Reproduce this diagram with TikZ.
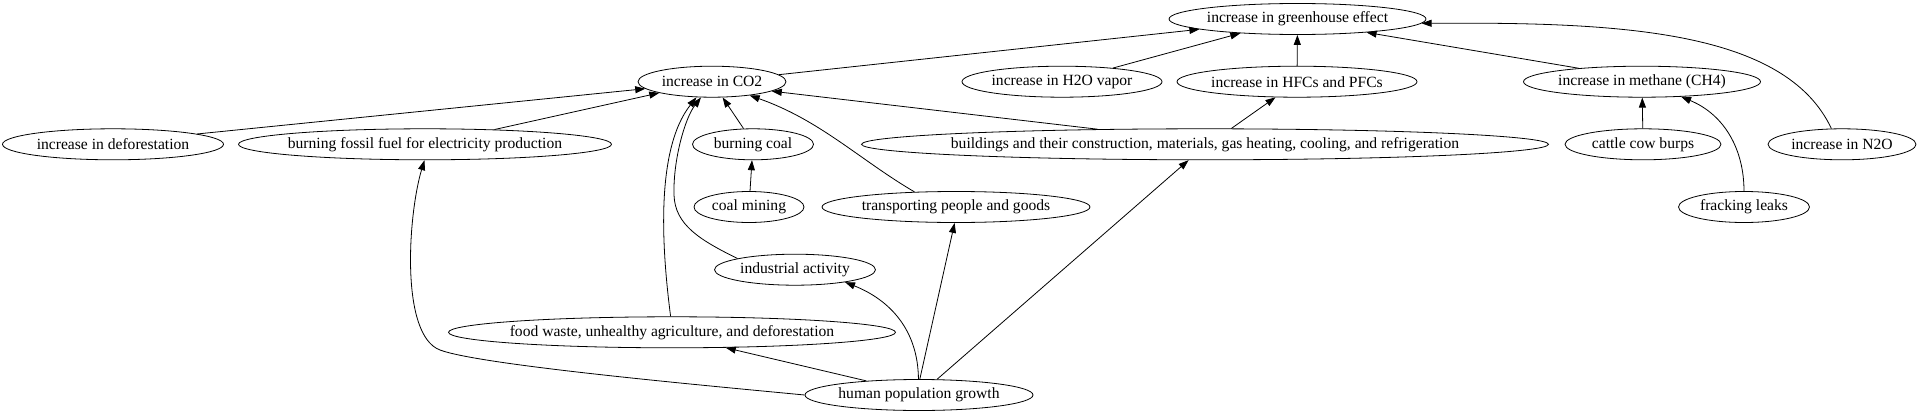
\documentclass[tikz,border=0pt]{standalone}
\usepackage{fontspec}
\setmainfont{Liberation Serif}
\usetikzlibrary{shapes.geometric, arrows.meta}
\tikzset{
  factor/.style={
    ellipse,
    draw=black,
    line width=0.8pt,
    inner xsep=-30pt,
    inner ysep=0pt,
    minimum height=31pt,
    font=\fontsize{15.6}{18}\selectfont,
  },
  arrow/.style={
    -{Triangle[length=10pt,width=7pt]},
    line width=0.8pt
  }
}
\begin{document}
\begin{tikzpicture}[x=1pt, y=-1pt]
  \useasboundingbox (0,0) rectangle (1920,415);

  % Top effect
  \node [factor, minimum width=257pt] (gh) at (1297.5,19) {increase in greenhouse effect};

  % Gases
  \node [factor, minimum width=148pt] (co2) at (712,81.7)  {increase in CO2};
  \node [factor, minimum width=200pt] (h2o) at (1062,81.7) {increase in H2O vapor};
  \node [factor, minimum width=240pt] (hfc) at (1297,81.7) {increase in HFCs and PFCs};
  \node [factor, minimum width=237pt] (ch4) at (1642,81.7) {increase in methane (CH4)};

  % Direct sources
  \node [factor, minimum width=221pt] (defor)  at (113,144.3)  {increase in deforestation};
  \node [factor, minimum width=373pt] (fossil) at (425,144.3)  {burning fossil fuel for electricity production};
  \node [factor, minimum width=121pt] (bcoal)  at (753,144.3)  {burning coal};
  \node [factor, minimum width=687pt] (build)  at (1205,144.3)
        {buildings and their construction, materials, gas heating, cooling, and refrigeration};
  \node [factor, minimum width=156pt] (cattle) at (1643,144.3) {cattle cow burps};
  \node [factor, minimum width=148pt] (n2o)    at (1842,144.3) {increase in N2O};

  % Lower causes
  \node [factor, minimum width=110pt] (cmining) at (749,207) {coal mining};
  \node [factor, minimum width=268pt] (transp)  at (956,207) {transporting people and goods};
  \node [factor, minimum width=131pt] (frack)   at (1744,207) {fracking leaks};
  \node [factor, minimum width=161pt] (indus)   at (795,269.7) {industrial activity};
  \node [factor, minimum width=447pt] (food)    at (672,332.3)
        {food waste, unhealthy agriculture, and deforestation};
  \node [factor, minimum width=228pt] (human)   at (919,395) {human population growth};

  % Gases -> greenhouse effect
  \draw [arrow] (co2.6.7) -- (gh.186);
  \draw [arrow] (h2o.15.6) -- (gh.194.7);
  \draw [arrow] (hfc) -- (gh);
  \draw [arrow] (ch4.168.6) -- (gh.349.5);
  \draw [arrow] (n2o.124) .. controls (1785,30) and (1620,22) .. (gh.358);

  % Sources -> gases
  \draw [arrow] (defor.7.5) -- (co2.186);
  \draw [arrow] (fossil.12.6) -- (co2.192.7);
  \draw [arrow] (bcoal.121) -- (co2.304);
  \draw [arrow] (build.172.4) -- (co2.351);
  \draw [arrow] (build.31) -- (hfc.216);
  \draw [arrow] (cattle) -- (ch4);
  \draw [arrow] (frack.north) .. controls (1744,150) and (1725,115) .. (ch4.339);
  \draw [arrow] (cmining) -- (bcoal);
  \draw [arrow] (transp.160) .. controls (860,160) and (820,120) .. (co2.340);
  \draw [arrow] (indus.169) .. controls (700,240) and (675,225) .. (674,195)
        .. controls (673,160) and (685,118) .. (co2.235);
  \draw [arrow] (food.95) .. controls (662,250) and (655,150) .. (co2.225.5);

  % Population growth -> causes
  \draw [arrow] (human.west) .. controls (700,385) and (480,365) .. (440,350)
        .. controls (400,335) and (408,215) .. (fossil.268);
  \draw [arrow] (human.165.7) -- (food.344.9);
  \draw [arrow] (human.92) .. controls (918,330) and (890,300) .. (indus.346);
  \draw [arrow] (human.87) -- (transp.265);
  \draw [arrow] (human.41) -- (build.224.5);
\end{tikzpicture}
\end{document}
